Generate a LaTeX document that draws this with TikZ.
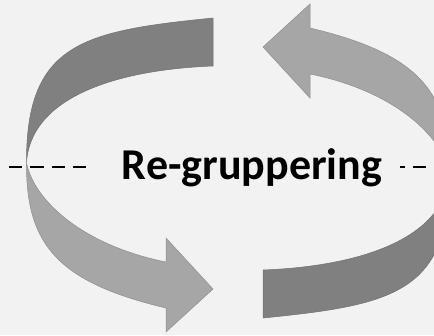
\documentclass[tikz,border=0pt]{standalone}
\usepackage{fontspec}
\setmainfont{Carlito}
\definecolor{bg}{HTML}{F2F2F2}
\definecolor{darkpart}{HTML}{808080}
\definecolor{lightpart}{HTML}{A6A6A6}
\definecolor{darkedge}{HTML}{707070}
\definecolor{lightedge}{HTML}{8E8E8E}
\tikzset{
  darkface/.style={fill=darkpart, draw=darkedge, line width=0.5pt, line join=round},
  lightface/.style={fill=lightpart, draw=lightedge, line width=0.5pt, line join=miter},
  dashline/.style={draw=black, line width=2pt, dash pattern=on 13.3pt off 8pt},
  title/.style={font=\bfseries\fontsize{44}{44}\selectfont, inner sep=0pt, anchor=base},
  curvarrow/.pic={
    % back (dark) face
    \path[darkface] (213,18) .. controls (83,31) and (26,43) .. (26.5,163)
      .. controls (30,100) and (110,70) .. (213,66) -- cycle;
    % front (light) face with arrowhead
    \path[lightface] (26.5,163) .. controls (26,243) and (56,282) .. (166,308)
      -- (166,332) -- (213,289) -- (166,238) -- (166,262)
      .. controls (86,246) and (35,203) .. (26.5,163) -- cycle;
  }
}
\begin{document}
\begin{tikzpicture}[x=1pt, y=-1pt]
  \useasboundingbox (0,0) rectangle (434,335);
  \fill[bg] (0,0) rectangle (434,335);
  \pic at (0,0) {curvarrow};
  \pic[rotate=180] at (476,336) {curvarrow};
  \coordinate (dla) at (9,167);
  \coordinate (dlb) at (94,167);
  \coordinate (dra) at (400,167);
  \coordinate (drb) at (434,167);
  \draw[dashline] (dla) -- (dlb);
  \draw[dashline, dash phase=8.3pt] (dra) -- (drb);
  \node[title] (label) at (252,179) {Re-gruppering};
\end{tikzpicture}
\end{document}
